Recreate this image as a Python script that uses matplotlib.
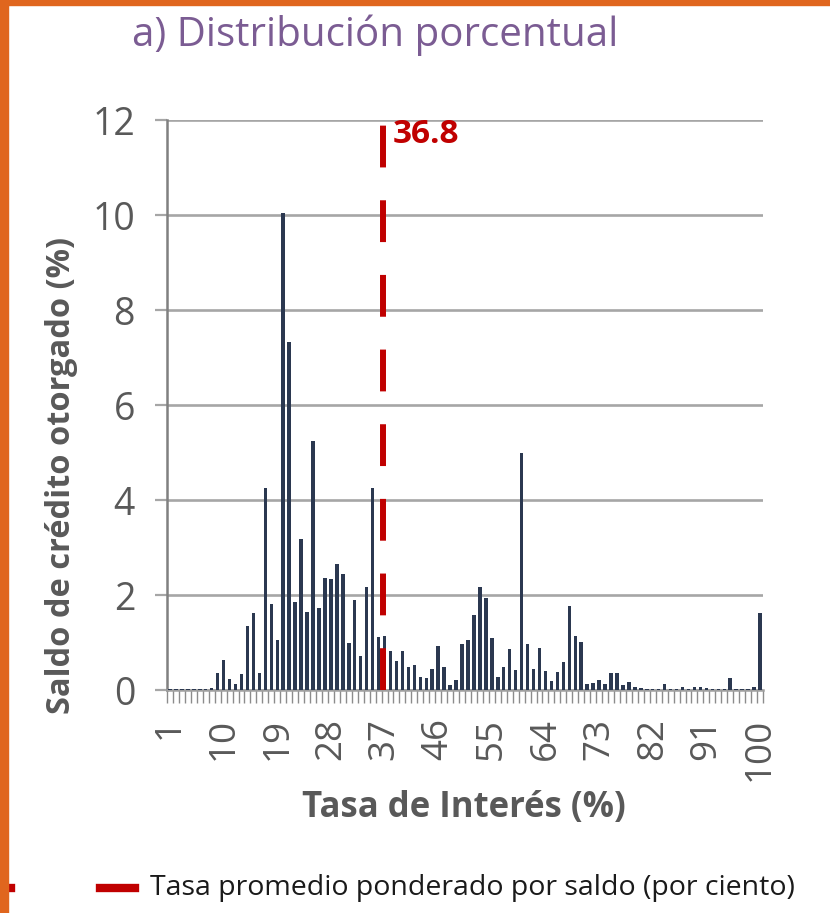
import matplotlib
matplotlib.use("Agg")
import matplotlib.pyplot as plt
from matplotlib.lines import Line2D
from matplotlib.patches import Rectangle
import numpy as np

# ---- data ----
rates = list(range(1, 101))
shares = [0.02, 0.02, 0.02, 0.02, 0.02, 0.02, 0.02, 0.05, 0.35, 0.63,
          0.24, 0.13, 0.34, 1.35, 1.62, 0.35, 4.25, 1.81, 1.05, 10.05,
          7.32, 1.86, 3.18, 1.65, 5.24, 1.72, 2.36, 2.34, 2.65, 2.45,
          1.00, 1.89, 0.72, 2.17, 4.25, 1.11, 1.14, 0.83, 0.62, 0.83,
          0.49, 0.53, 0.27, 0.25, 0.45, 0.92, 0.49, 0.10, 0.21, 0.97,
          1.06, 1.58, 2.16, 1.94, 1.10, 0.28, 0.49, 0.86, 0.42, 5.00,
          0.97, 0.45, 0.88, 0.39, 0.18, 0.37, 0.58, 1.77, 1.14, 1.02,
          0.12, 0.15, 0.21, 0.12, 0.35, 0.35, 0.10, 0.16, 0.06, 0.04,
          0.03, 0.03, 0.03, 0.12, 0.03, 0.03, 0.07, 0.03, 0.07, 0.07,
          0.04, 0.03, 0.03, 0.03, 0.26, 0.03, 0.03, 0.03, 0.07, 1.63]
avg_rate = 36.8
avg_label = "36.8"
xtick_labels = [1, 10, 19, 28, 37, 46, 55, 64, 73, 82, 91, 100]
yticks = [0, 2, 4, 6, 8, 10, 12]

title = "a) Distribución porcentual"
ylabel = "Saldo de crédito otorgado (%)"
xlabel = "Tasa de Interés (%)"
legend_label = "Tasa promedio ponderado por saldo (por ciento)"

FONT = ["Open Sans", "DejaVu Sans"]
plt.rcParams["font.family"] = FONT

W, H = 830, 913
fig = plt.figure(figsize=(W / 100, H / 100), dpi=100)
fig.patch.set_facecolor("white")

def fx(px):
    return px / W

def fy(py):
    return 1 - py / H

ax_left, ax_right, ax_top, ax_bottom = 167, 763, 120, 690
ax = fig.add_axes([fx(ax_left), fy(ax_bottom), fx(ax_right - ax_left), (ax_bottom - ax_top) / H])

grey = "#595959"
gridc = "#A6A6A6"
ax.bar(rates, shares, width=0.58, color="#2B3850", edgecolor="none", zorder=3)
ax.set_xlim(0.5, 100.5)
ax.set_ylim(0, 12)

ax.set_yticks(yticks)
ax.set_yticklabels([str(v) for v in yticks], fontsize=27, color=grey)
ax.yaxis.grid(True, color=gridc, linewidth=1.9, zorder=0)
ax.tick_params(axis="y", length=9, width=1.6, color=gridc, pad=14)

ax.set_xticks(xtick_labels)
ax.set_xticklabels([str(v) for v in xtick_labels], rotation=90, fontsize=26.5, color=grey,
                   va="top", ha="center")
ax.tick_params(axis="x", which="major", length=0, pad=20)
ax.set_xticks(np.arange(0.5, 101.0, 1.0), minor=True)
ax.tick_params(axis="x", which="minor", length=9, width=1.0, color="#8C8C8C")

for s in ["top", "right"]:
    ax.spines[s].set_visible(False)
ax.spines["left"].set_color("#808080")
ax.spines["left"].set_linewidth(1.8)
ax.spines["bottom"].set_color("#A0A0A0")
ax.spines["bottom"].set_linewidth(1.8)

red = "#C00000"
ax.plot([avg_rate, avg_rate], [0, 11.9], color=red, linewidth=4.3,
        linestyle=(0, (7, 5.5)), zorder=4, solid_capstyle="butt")
ax.text(avg_rate + 1.5, 11.7, avg_label, color=red, fontsize=24, fontweight="bold",
        va="center", ha="left", zorder=5)

# titles / labels
fig.text(fx(375), fy(35), title, fontsize=29, color="#7B5C93", ha="center", va="center")
fig.text(fx(62), fy(475), ylabel, fontsize=23.5, fontweight="bold", color=grey,
         rotation=90, ha="center", va="center")
fig.text(fx(464), fy(808), xlabel, fontsize=25, fontweight="bold", color=grey,
         ha="center", va="center")

# legend
fig.add_artist(Line2D([fx(100), fx(135)], [fy(888), fy(888)], color=red, linewidth=6))
fig.add_artist(Line2D([fx(3), fx(11)], [fy(888), fy(888)], color=red, linewidth=6))
fig.text(fx(150), fy(888), legend_label, fontsize=20.5, color="#1a1a1a",
         ha="left", va="center")

# orange frame pieces
orange = "#E0661E"
fig.add_artist(Rectangle((0, 0), fx(8), 1, transform=fig.transFigure, color=orange, zorder=10))
fig.add_artist(Rectangle((0, fy(5)), 1, 5 / H, transform=fig.transFigure, color=orange, zorder=10))

fig.savefig("out.png", dpi=100, facecolor="white")
